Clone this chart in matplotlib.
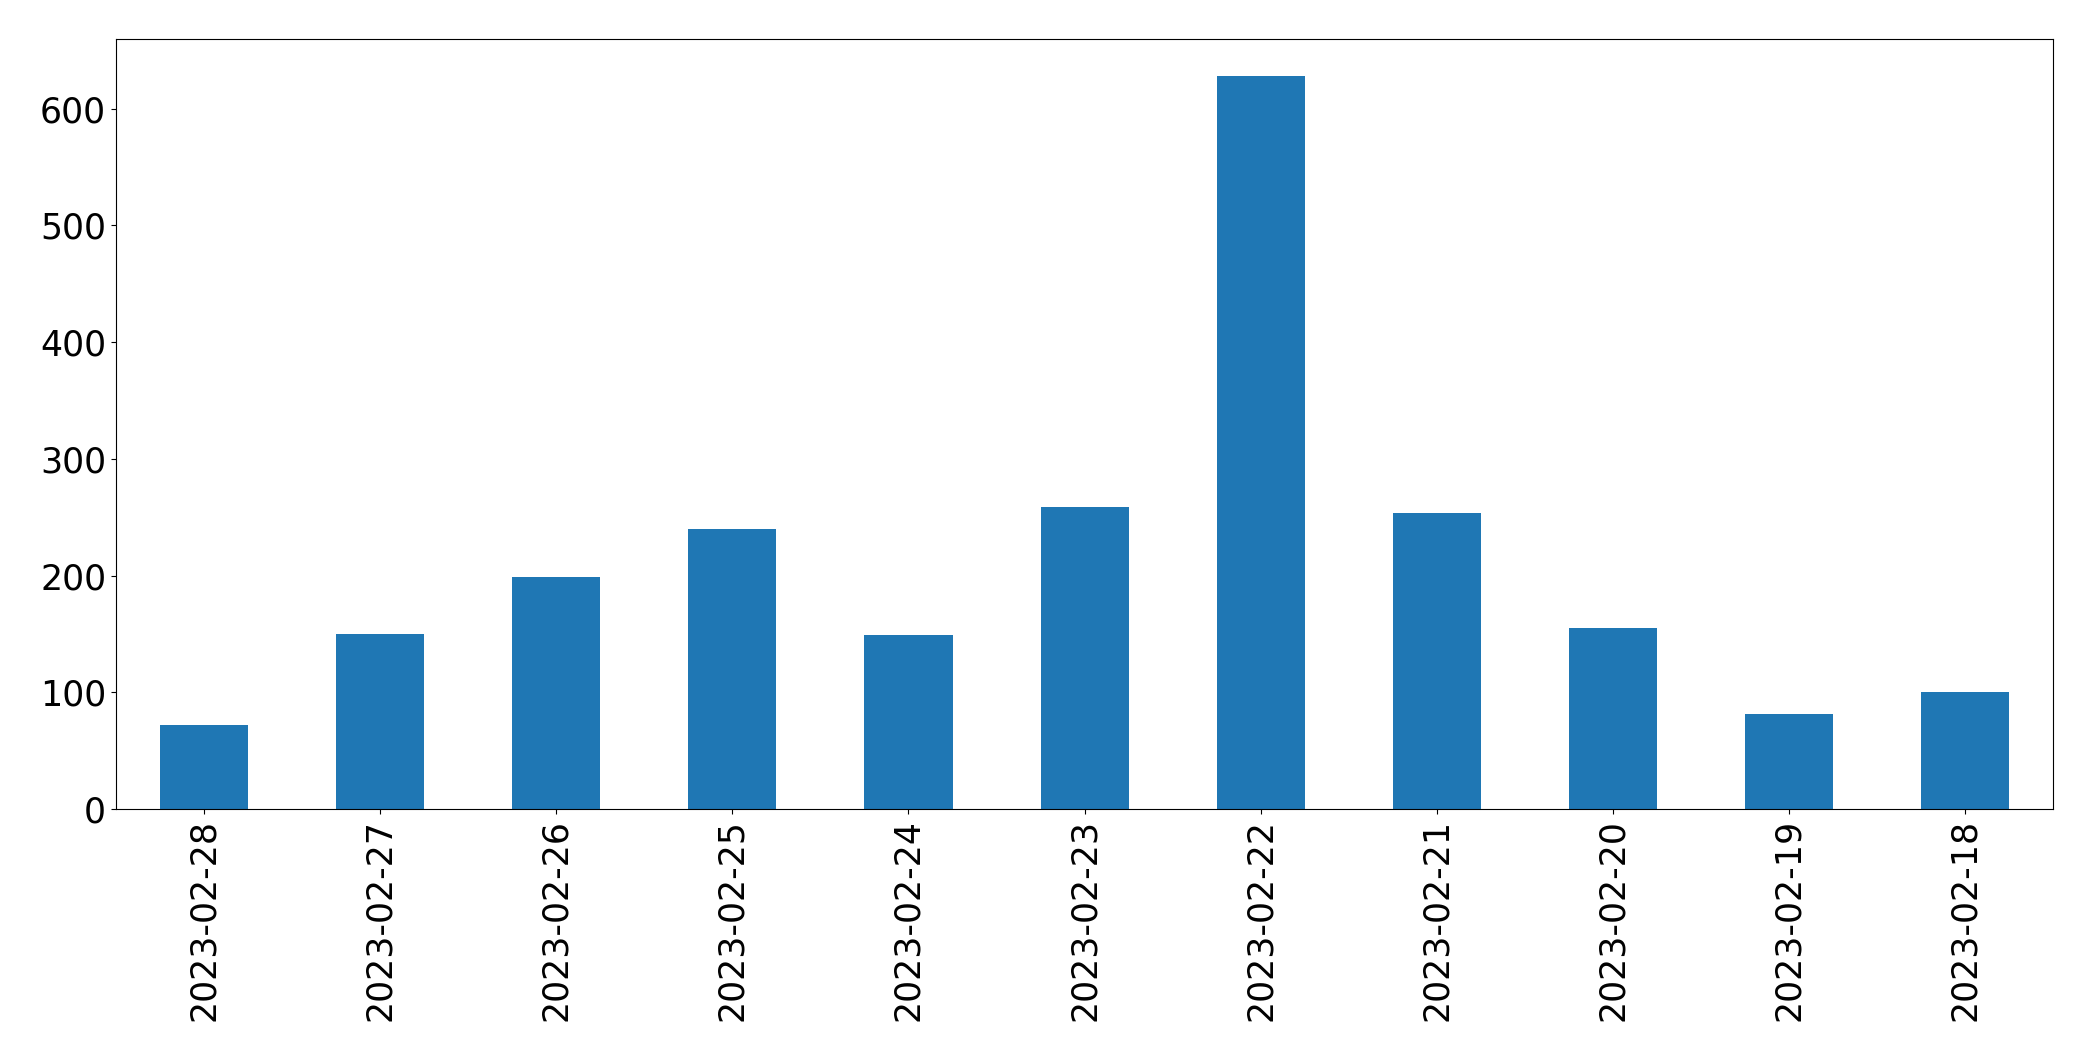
"""Daily counts bar chart, newest date first."""

import matplotlib

matplotlib.use("Agg")

import matplotlib.pyplot as plt  # noqa: E402
import numpy as np  # noqa: E402

dates = [
    "2023-02-28", "2023-02-27", "2023-02-26", "2023-02-25", "2023-02-24",
    "2023-02-23", "2023-02-22", "2023-02-21", "2023-02-20", "2023-02-19",
    "2023-02-18",
]
counts = [72, 150, 199, 240, 149, 259, 628, 254, 155, 81, 100]

fig = plt.figure(figsize=(20.93, 10.61), dpi=100)
ax = fig.add_axes([0.0554, 0.2375, 0.9256, 0.7255])

x = np.arange(len(dates))
ax.bar(x, counts, width=0.5, color="#1f77b4")
ax.set_xlim(-0.5, len(dates) - 0.5)
ax.set_ylim(0, max(counts) * 1.05)
ax.set_xticks(x)
ax.set_xticklabels(dates, rotation=90)
ax.tick_params(axis="both", labelsize=25)

fig.savefig("out.png", dpi=100)
plt.close(fig)
